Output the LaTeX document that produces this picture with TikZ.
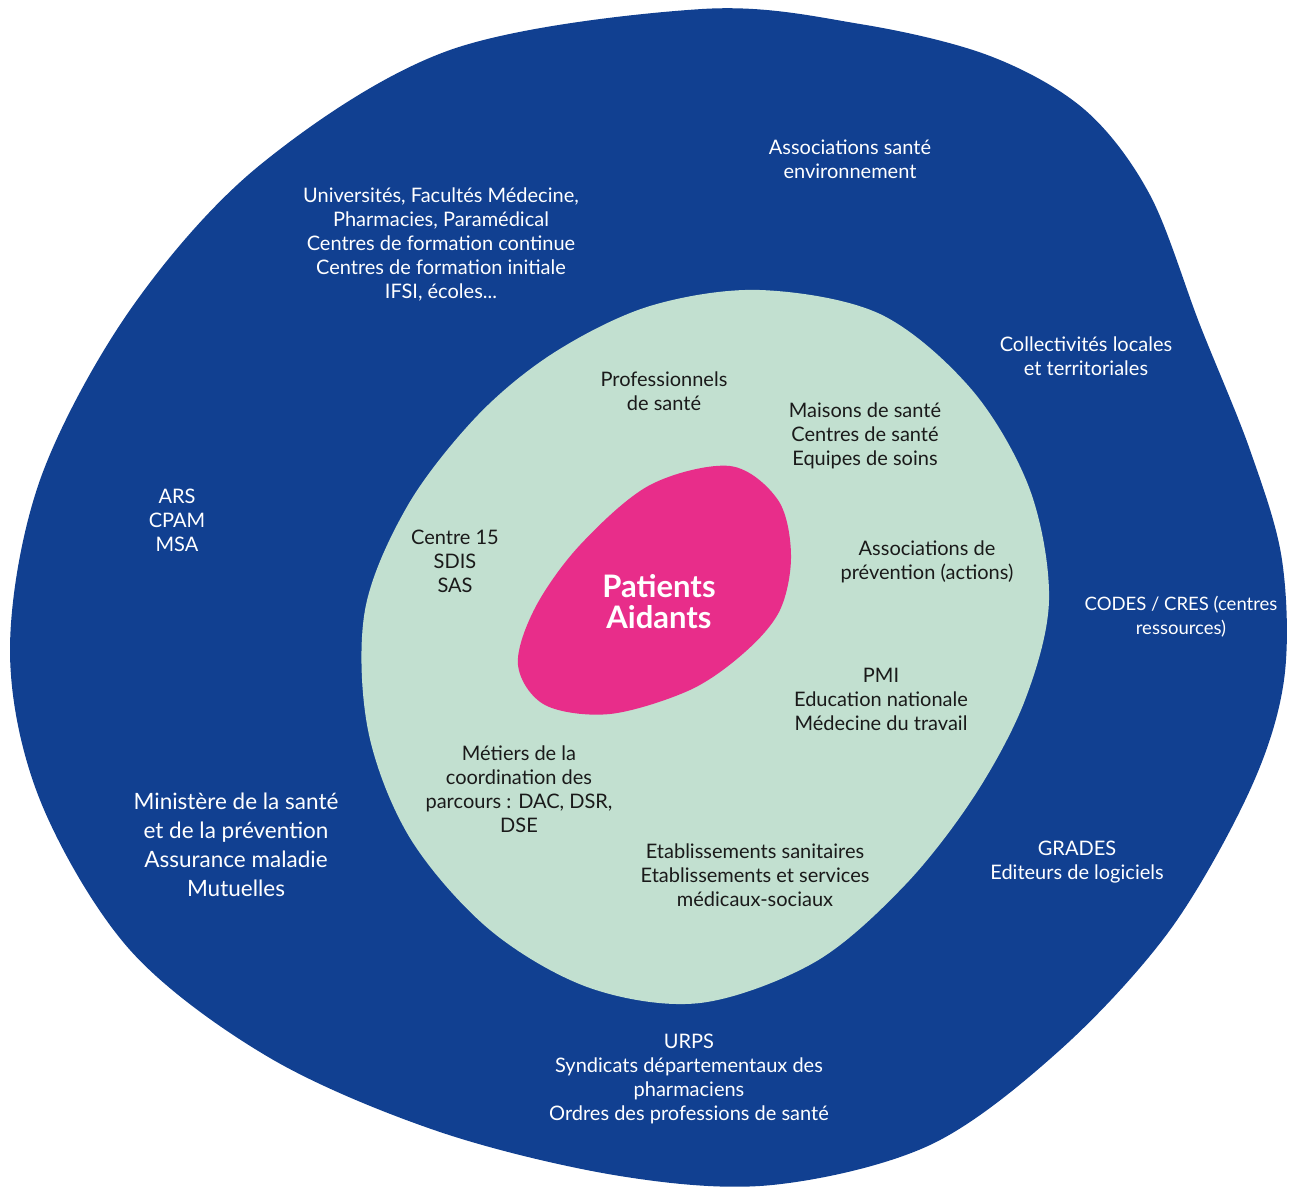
\documentclass[tikz,border=0pt]{standalone}
\usepackage{fontspec}
\setmainfont{Lato}
\usetikzlibrary{positioning}
\definecolor{bleu}{HTML}{114091}
\definecolor{vert}{HTML}{C2E0D0}
\definecolor{rose}{HTML}{E82D8A}
\definecolor{encre}{HTML}{1A1A1A}
\tikzset{
  outer label/.style={align=center, inner sep=0pt, text=white, font=\fontsize{20}{24}\selectfont},
  inner label/.style={align=center, inner sep=0pt, text=encre, font=\fontsize{20}{24}\selectfont},
}

\begin{document}
\begin{tikzpicture}[x=1pt, y=-1pt]
\useasboundingbox (0,0) rectangle (1296,1187);

\fill[bleu] plot[smooth cycle, tension=0.55] coordinates {
  (702,9) (860,24) (990,56) (1085,110) (1150,195) (1200,325) (1250,450)
  (1282,560) (1284,680) (1250,790) (1170,930) (1060,1050) (930,1145)
  (772,1185) (620,1176) (440,1132) (270,1058) (130,950) (40,800) (10,650)
  (40,480) (130,310) (260,165) (450,50)};

\fill[vert] plot[smooth cycle, tension=0.55] coordinates {
  (760,290) (880,314) (972,390) (1030,490) (1049,600) (1025,700)
  (975,795) (905,885) (815,962) (700,1003) (590,988) (490,930)
  (410,838) (368,730) (365,610) (408,505) (478,415) (555,352) (650,306)};

\fill[rose] plot[smooth cycle, tension=0.55] coordinates {
  (730,466) (778,500) (791,555) (780,610) (745,652) (690,690) (610,714)
  (545,705) (518,665) (535,608) (580,545) (650,485)};

\node[align=center, inner sep=0pt, text=white, font=\bfseries\fontsize{31}{31}\selectfont] (patients) at (659,602) {Patients\\Aidants};

\node[inner label] (pros) at (664,391) {Professionnels\\de santé};
\node[inner label] (maisons) at (865,436) {Maisons de santé\\Centres de santé\\Equipes de soins};
\node[inner label] (centre15) at (455,561) {Centre 15\\SDIS\\SAS};
\node[inner label] (prevention) at (927,562) {Associations de\\prévention (actions)};
\node[inner label] (pmi) at (881,699) {PMI\\Education nationale\\Médecine du travail};
\node[inner label] (metiers) at (519,789) {Métiers de la\\coordination des\\parcours : DAC, DSR,\\DSE};
\node[inner label] (etab) at (755,875) {Etablissements sanitaires\\Etablissements et services\\médicaux-sociaux};

\node[outer label] (environnement) at (850,159) {Associations santé\\environnement};
\node[outer label] (universites) at (441,244) {Universités, Facultés Médecine,\\Pharmacies, Paramédical\\Centres de formation continue\\Centres de formation initiale\\IFSI, écoles...};
\node[outer label] (collectivites) at (1086,356) {Collectivités locales\\et territoriales};
\node[outer label] (ars) at (177,520) {ARS\\CPAM\\MSA};
\node[outer label, font=\fontsize{18.5}{24}\selectfont] (codes) at (1181,617) {CODES / CRES (centres\\ressources)};
\node[outer label, font=\fontsize{22.5}{29}\selectfont] (ministere) at (236,845) {Ministère de la santé\\et de la prévention\\Assurance maladie\\Mutuelles};
\node[outer label] (grades) at (1077,862) {GRADES\\Editeurs de logiciels};
\node[outer label] (urps) at (689,1079) {URPS\\Syndicats départementaux des\\pharmaciens\\Ordres des professions de santé};

\end{tikzpicture}
\end{document}
